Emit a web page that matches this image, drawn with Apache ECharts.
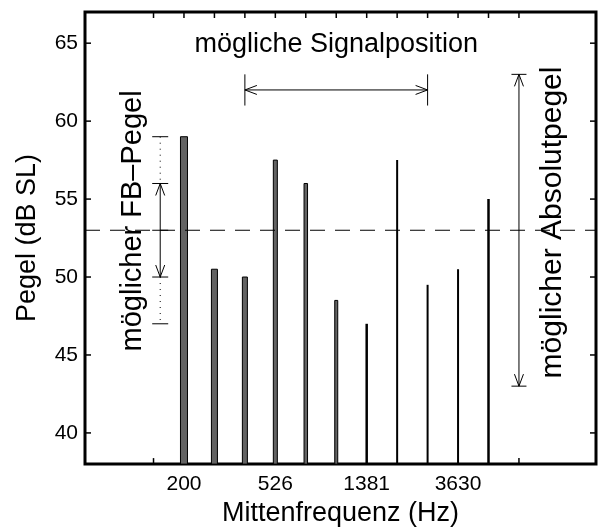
<!DOCTYPE html>
<html><head><meta charset="utf-8">
<script src="https://cdn.jsdelivr.net/npm/echarts@6/dist/echarts.min.js"></script>
<style>html,body{margin:0;padding:0;background:#fff}#c{width:598px;height:532px}</style>
</head><body><div id="c"></div>
<script>
// ---- data ----
const bandIndex = [1, 2, 3, 4, 5, 6, 7, 8, 9, 10, 11];
const levels = [59, 50.5, 50, 57.5, 56, 48.5, 47, 57.5, 49.5, 50.5, 55];
const xTickIndex = [0, 1, 2, 3, 4, 5, 6, 7, 8, 9, 10, 11, 12];
const xLabelIndex = [1, 4, 7, 10];
const xLabelText = ['200', '526', '1381', '3630'];
const yTicks = [40, 45, 50, 55, 60, 65];
const referenceLevel = 53;
const fbLevels = [47, 50, 53, 56, 59];     // möglicher FB-Pegel marks
const signalRange = [3, 9];                 // mögliche Signalposition (band index)
const signalLevel = 62;
const absRange = [43, 63];                  // möglicher Absolutpegel
const absIndex = 12;

// ---- layout / style constants ----
const X_MIN = -2.25, X_MAX = 14.53, Y_MIN = 38, Y_MAX = 67;
const barWidths = [7, 6, 5, 4, 3.5, 3, 2.5, 2, 2, 2, 2.5];
const FB_X = 0.22;
const TICK_LEN = 6;
const TICK_COLOR = '#000';
const FONT = 'Liberation Sans, Arial, Helvetica, sans-serif';
const BIG = 27;

const chart = echarts.init(document.getElementById('c'), null, {renderer: 'canvas'});

function seg(a, b, dash, w, col) {
  return {type: 'line', shape: {x1: a[0], y1: a[1], x2: b[0], y2: b[1]},
    style: {stroke: col || '#000', lineWidth: w || 1, lineDash: dash || null}};
}
function head(tip, dx, dy) { // dx,dy: unit direction the arrow points
  const L = 12, H = 4.5;
  const bx = tip[0] - dx * L, by = tip[1] - dy * L;
  const px = -dy * H, py = dx * H;
  return {type: 'polyline', shape: {points: [[bx + px, by + py], tip, [bx - px, by - py]]},
    style: {stroke: '#000', fill: null, lineWidth: 1}};
}
function txt(p, s, size, rot) {
  return {type: 'text', x: p[0], y: p[1], rotation: rot || 0,
    style: {text: s, fill: '#000', font: size + 'px ' + FONT, align: 'center', verticalAlign: 'middle'}};
}
const hiddenLine = {show: false, onZero: false};

const option = {
  backgroundColor: '#fff',
  animation: false,
  grid: {left: 85, right: 2, top: 12, bottom: 64, show: true, borderColor: '#000', borderWidth: 3, backgroundColor: 'transparent'},
  xAxis: [{
    type: 'value', min: X_MIN, max: X_MAX, position: 'bottom',
    axisLine: hiddenLine, splitLine: {show: false}, axisTick: {show: false},
    axisLabel: {show: true, customValues: xLabelIndex, margin: 10, color: '#000', fontSize: 21, fontFamily: FONT,
      formatter: v => xLabelText[xLabelIndex.indexOf(Math.round(v))] || ''},
    name: 'Mittenfrequenz (Hz)', nameLocation: 'middle', nameGap: 34,
    nameTextStyle: {color: '#000', fontSize: BIG, fontFamily: FONT}
  }],
  yAxis: [{
    type: 'value', min: Y_MIN, max: Y_MAX, position: 'left',
    axisLine: hiddenLine, splitLine: {show: false}, axisTick: {show: false},
    axisLabel: {show: true, customValues: yTicks, margin: 7, color: '#000', fontSize: 21, fontFamily: FONT},
    name: 'Pegel (dB SL)', nameLocation: 'middle', nameGap: 44, nameRotate: 90,
    nameTextStyle: {color: '#000', fontSize: BIG, fontFamily: FONT}
  }],
  series: [{
    type: 'custom', z: 2,
    data: bandIndex.map((b, i) => [b, levels[i]]),
    renderItem: function (params, api) {
      const x = api.value(0), y = api.value(1);
      const top = api.coord([x, y]), base = api.coord([x, Y_MIN]);
      const w = barWidths[params.dataIndex];
      const thick = w >= 3;
      return {type: 'rect',
        shape: {x: top[0] - w / 2, y: top[1], width: w, height: base[1] - top[1]},
        style: {fill: thick ? '#636363' : '#000', stroke: thick ? '#000' : null, lineWidth: thick ? 1 : 0}};
    }
  }, {
    type: 'custom', z: 3, clip: false, silent: true,
    data: [[0, 0]],
    renderItem: function (params, api) {
      const c = (x, y) => api.coord([x, y]);
      const kids = [];
      // inward tick marks on all four sides of the frame (bottom ones hidden where a bar stands)
      xTickIndex.forEach(t => {
        const b = c(t, Y_MIN), u = c(t, Y_MAX);
        if (bandIndex.indexOf(t) < 0) kids.push(seg(b, [b[0], b[1] - TICK_LEN], null, 1.5, TICK_COLOR));
        kids.push(seg(u, [u[0], u[1] + TICK_LEN], null, 1.5, TICK_COLOR));
      });
      yTicks.forEach(t => {
        const l = c(X_MIN, t), r = c(X_MAX, t);
        kids.push(seg(l, [l[0] + TICK_LEN, l[1]], null, 1.5, TICK_COLOR));
        kids.push(seg(r, [r[0] - TICK_LEN, r[1]], null, 1.5, TICK_COLOR));
      });
      // reference dashed line
      kids.push(seg(c(X_MIN, referenceLevel), c(X_MAX, referenceLevel), [15, 10]));
      // FB-Pegel marker
      fbLevels.forEach(v => { const p = c(FB_X, v); kids.push(seg([p[0] - 8, p[1]], [p[0] + 8, p[1]])); });
      kids.push(seg(c(FB_X, fbLevels[4]), c(FB_X, fbLevels[3]), [1, 5]));
      kids.push(seg(c(FB_X, fbLevels[1]), c(FB_X, fbLevels[0]), [1, 5]));
      kids.push(seg(c(FB_X, fbLevels[3]), c(FB_X, fbLevels[1])));
      kids.push(head(c(FB_X, fbLevels[3]), 0, -1));
      kids.push(head(c(FB_X, fbLevels[1]), 0, 1));
      // Signalposition arrow
      const s0 = c(signalRange[0], signalLevel), s1 = c(signalRange[1], signalLevel);
      kids.push(seg(s0, s1));
      kids.push(seg(c(signalRange[0], signalLevel - 1), c(signalRange[0], signalLevel + 1)));
      kids.push(seg(c(signalRange[1], signalLevel - 1), c(signalRange[1], signalLevel + 1)));
      kids.push(head(s0, -1, 0));
      kids.push(head(s1, 1, 0));
      // Absolutpegel arrow
      const a0 = c(absIndex, absRange[0]), a1 = c(absIndex, absRange[1]);
      kids.push(seg(a0, a1));
      kids.push(seg([a0[0] - 7.5, a0[1]], [a0[0] + 7.5, a0[1]]));
      kids.push(seg([a1[0] - 7.5, a1[1]], [a1[0] + 7.5, a1[1]]));
      kids.push(head(a0, 0, 1));
      kids.push(head(a1, 0, -1));
      // texts
      kids.push(txt(c(6, 64.9), 'mögliche Signalposition', BIG, 0));
      kids.push(txt(c(-0.66, 53.6), 'möglicher FB–Pegel', 29, Math.PI / 2));
      kids.push(txt(c(13.12, 53.5), 'möglicher Absolutpegel', 30, Math.PI / 2));
      return {type: 'group', children: kids};
    }
  }]
};
chart.setOption(option);
</script>
</body></html>
